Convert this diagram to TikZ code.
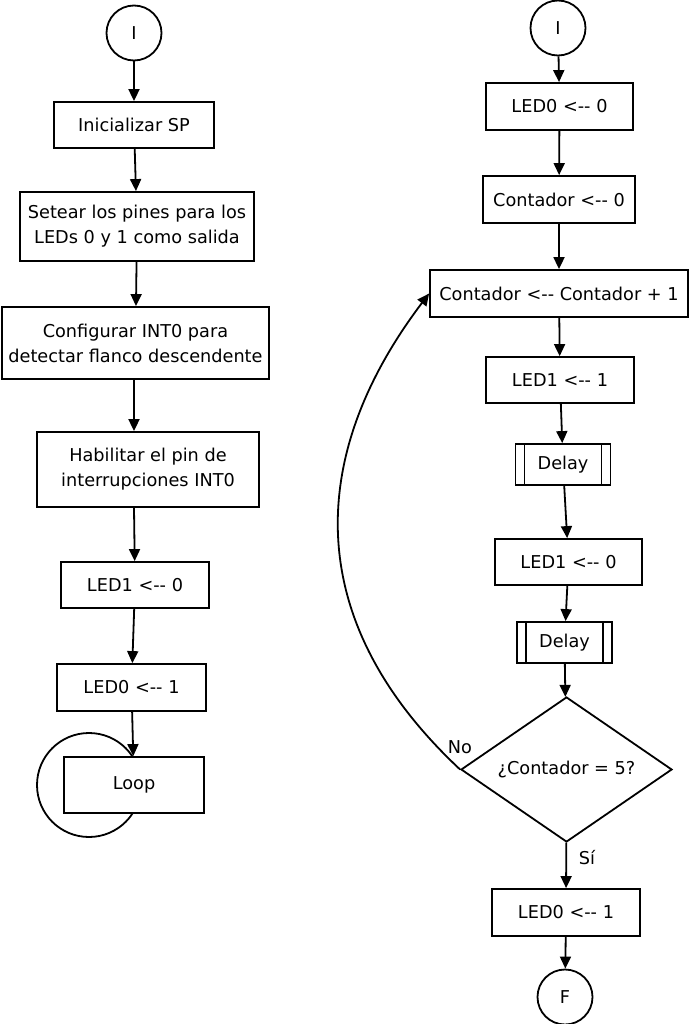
\documentclass[tikz,border=0pt]{standalone}
\usepackage{fontspec}
\setmainfont{DejaVu Sans}
\usetikzlibrary{arrows.meta,shapes.geometric}
\begin{document}
\begin{tikzpicture}[x=1pt,y=-1pt,
  font=\fontsize{17.7}{25}\selectfont,
  every node/.style={line width=1.8pt},
  box/.style={draw,fill=white,rectangle,align=center,inner sep=0pt},
  term/.style={draw,fill=white,circle,minimum size=55pt,inner sep=0pt},
  delaybox/.style={box,path picture={
     \draw[line width=1.8pt] ([xshift=9pt]path picture bounding box.north west) -- ([xshift=9pt]path picture bounding box.south west);
     \draw[line width=1.8pt] ([xshift=-9pt]path picture bounding box.north east) -- ([xshift=-9pt]path picture bounding box.south east);}},
  dec/.style={draw,fill=white,diamond,aspect=1.46,inner sep=0pt},
  arr/.style={line width=1.8pt,-{Triangle[length=12pt,width=11pt]}},
  lbl/.style={inner sep=0pt}]
\useasboundingbox (0,0) rectangle (689,1024);
% left column
\node[term] (li) at (134,33) {I};
\node[box,minimum width=160pt,minimum height=46pt] (l1) at (134,125) {Inicializar SP};
\node[box,minimum width=234pt,minimum height=69pt] (l2) at (137,226.5) {Setear los pines para los\\LEDs 0 y 1 como salida};
\node[box,minimum width=267pt,minimum height=72pt] (l3) at (135.5,343) {Configurar INT0 para\\detectar flanco descendente};
\node[box,minimum width=222pt,minimum height=75pt] (l4) at (148,469.5) {Habilitar el pin de\\interrupciones INT0};
\node[box,minimum width=148pt,minimum height=46pt] (l5) at (135,585) {LED1 <-{}- 0};
\node[box,minimum width=149pt,minimum height=47pt] (l6) at (131.5,687.5) {LED0 <-{}- 1};
\coordinate (lc) at (89,785);
\draw[line width=1.8pt] (lc) circle[radius=52];
\node[box,minimum width=140pt,minimum height=56pt] (l7) at (134,785) {Loop};
\draw[arr] (li) -- (l1);
\draw[arr] (l1) -- (l2);
\draw[arr] (l2) -- (l3);
\draw[arr] (l3.south -| 134,0) -- (l4.north -| 134,0);
\draw[arr] (l4.south -| 134,0) -- (l5);
\draw[arr] (l5) -- (l6);
\draw[arr] (l6) -- (l7);
% right column
\node[term] (ri) at (558,28) {I};
\node[box,minimum width=147pt,minimum height=47pt] (r1) at (559.5,106.5) {LED0 <-{}- 0};
\node[box,minimum width=152pt,minimum height=47pt] (r2) at (559,199.5) {Contador <-{}- 0};
\node[box,minimum width=258pt,minimum height=47pt] (r3) at (559,293.5) {Contador <-{}- Contador + 1};
\node[box,minimum width=148pt,minimum height=46pt] (r4) at (560,380) {LED1 <-{}- 1};
\node[delaybox,minimum width=95pt,minimum height=41pt] (r5) at (563,464.5) {Delay};
\node[box,minimum width=147pt,minimum height=46pt] (r6) at (568.5,562) {LED1 <-{}- 0};
\node[delaybox,minimum width=95pt,minimum height=41pt] (r7) at (564.5,642.5) {Delay};
\node[dec,minimum width=211pt,minimum height=145pt] (d) at (566.5,769.5) {¿Contador = 5?};
\node[box,minimum width=148pt,minimum height=47pt] (r8) at (566,912.5) {LED0 <-{}- 1};
\node[term] (rf) at (565,997) {F};
\draw[arr] (ri) -- (r1);
\draw[arr] (r1) -- (r2);
\draw[arr] (r2) -- (r3);
\draw[arr] (r3) -- (r4);
\draw[arr] (r4) -- (r5);
\draw[arr] (r5) -- (r6);
\draw[arr] (r6) -- (r7);
\draw[arr] (r7) -- (d);
\draw[arr] (d) -- (r8);
\draw[arr] (r8) -- (rf);
\draw[arr] (d.west) .. controls (295,615) and (312,448) .. (r3.west);
\node[lbl] (no) at (460,747) {No};
\node[lbl] (si) at (587,858) {Sí};
\end{tikzpicture}
\end{document}
